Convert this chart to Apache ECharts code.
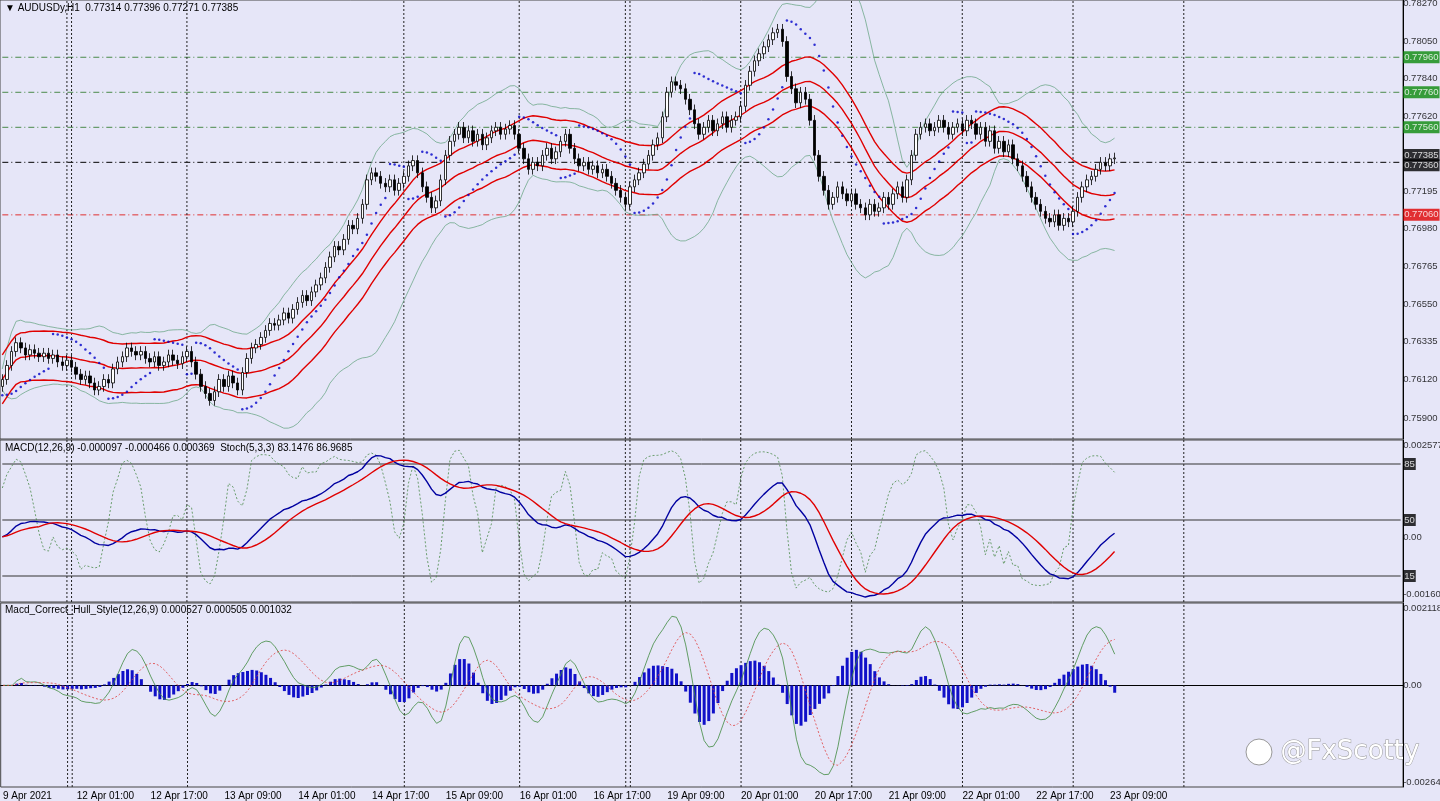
<!DOCTYPE html>
<html><head><meta charset="utf-8">
<script src="https://cdn.jsdelivr.net/npm/echarts@6/dist/echarts.min.js"></script>
<style>html,body{margin:0;padding:0;background:#e6e6f8}#c{width:1440px;height:801px}</style>
</head><body><div id="c"></div>
<script>
// ---- DATA ----
const closes = [
.7612,.7620,.7628,.7633,.7630,.7626,.7629,.7627,.7625,.7627,
.7624,.7626,.7622,.7620,.7623,.7619,.7615,.7612,.7614,.7610,
.7606,.7608,.7612,.7610,.7618,.7622,.7625,.7630,.7628,.7626,
.7628,.7624,.7622,.7625,.7620,.7622,.7626,.7623,.7621,.7625,
.7628,.7622,.7615,.7608,.7604,.7600,.7605,.7612,.7608,.7614,
.7610,.7606,.7616,.7624,.7630,.7632,.7636,.7640,.7644,.7643,
.7646,.7650,.7647,.7652,.7656,.7660,.7657,.7662,.7666,.7670,
.7676,.7682,.7688,.7686,.7692,.7700,.7698,.7704,.7712,.7726,
.7730,.7728,.7724,.7722,.7726,.7720,.7724,.7728,.7734,.7737,
.7730,.7722,.7716,.7710,.7714,.7726,.7740,.7748,.7752,.7756,
.7750,.7754,.7748,.7752,.7746,.7750,.7754,.7756,.7752,.7755,
.7757,.7752,.7744,.7738,.7732,.7736,.7734,.7740,.7744,.7738,
.7742,.7748,.7752,.7744,.7738,.7734,.7736,.7732,.7734,.7730,
.7732,.7728,.7724,.7720,.7716,.7712,.7722,.7726,.7730,.7735,
.7740,.7746,.7750,.7762,.7776,.7782,.7780,.7778,.7772,.7766,
.7758,.7752,.7756,.7760,.7754,.7758,.7762,.7756,.7760,.7762,
.7768,.7780,.7788,.7794,.7798,.7802,.7806,.7810,.7812,.7805,
.7785,.7778,.7770,.7776,.7772,.7760,.7740,.7728,.7720,.7712,
.7716,.7722,.7718,.7714,.7718,.7712,.7710,.7706,.7712,.7708,
.7710,.7716,.7712,.7718,.7722,.7716,.7726,.7740,.7752,.7756,
.7758,.7754,.7756,.7760,.7756,.7752,.7756,.7758,.7754,.7760,
.7758,.7752,.7756,.7748,.7754,.7744,.7748,.7742,.7746,.7738,
.7734,.7728,.7722,.7716,.7712,.7708,.7704,.7702,.7706,.7700,
.7704,.7702,.7708,.7716,.7722,.7726,.7728,.7732,.7736,.7734,
.7738,.77385];
const firstOpen = .7608;
const wick = 0.0003;
const timeLabels = ["9 Apr 2021","12 Apr 01:00","12 Apr 17:00","13 Apr 09:00","14 Apr 01:00","14 Apr 17:00","15 Apr 09:00","16 Apr 01:00","16 Apr 17:00","19 Apr 09:00","20 Apr 01:00","20 Apr 17:00","21 Apr 09:00","22 Apr 01:00","22 Apr 17:00","23 Apr 09:00"];
const priceTicks = ["0.78270","0.78050","0.77840","0.77620","0.77195","0.76980","0.76765","0.76550","0.76335","0.76120","0.75900"];
const greenTags = ["0.77960","0.77760","0.77560"];
const lastPrice = "0.77385", blackTag = "0.77360", redTag = "0.77060";
const daySeps = [14,15,40,87,112,135,136,160,184,208,232,256];
const macdTicks = ["0.002577","0.00","-0.00160"];
const stochLevels = [85,50,15];
const hullTicks = ["0.002118","0.00","-0.002645"];
const NCAT = 304;

// ---- derived ----
const n = closes.length;
const opens = closes.map((c,i)=> i===0?firstOpen:closes[i-1]);
const highs = closes.map((c,i)=>Math.max(c,opens[i])+wick);
const lows = closes.map((c,i)=>Math.min(c,opens[i])-wick);
const cats = Array.from({length:NCAT},(_,i)=> (i%16===0 && i/16<timeLabels.length)? timeLabels[i/16] : '');
const candles = closes.map((c,i)=>[opens[i],c,lows[i],highs[i]]);
function smaFill(a,p){return a.map((v,i)=>{const st=Math.max(0,i-p+1);let s=0;for(let k=st;k<=i;k++)s+=a[k];return s/(i-st+1);});}
function ema(a,p){const k=2/(p+1);let e=a[0];return a.map((v,i)=>{if(i>0)e=v*k+e*(1-k);return e;});}
function wma(a,p){return a.map((v,i)=>{const st=Math.max(0,i-p+1);let s=0,w=0;for(let k=st;k<=i;k++){const ww=k-st+1;s+=a[k]*ww;w+=ww;}return s/w;});}
function hma(a,p){const h=wma(a,Math.floor(p/2)),f=wma(a,p);const d=h.map((v,i)=>2*v-f[i]);return wma(d,Math.round(Math.sqrt(p)));}
const ma20 = smaFill(closes,20);
const env = 0.0014;
const up = ma20.map(v=>v+env), dn = ma20.map(v=>v-env);
const bbU=[],bbL=[];
ma20.forEach((m,i)=>{const st=Math.max(0,i-19);let s=0;for(let k=st;k<=i;k++)s+=(closes[k]-m)**2;const sd=Math.sqrt(s/(i-st+1));bbU.push(m+2*sd+0.0006);bbL.push(m-2*sd-0.0006);});
const sar=[];{let bull=true,af=0.02,ep=highs[0],s=lows[0];for(let i=0;i<n;i++){if(i>0){s=s+af*(ep-s);if(bull){if(lows[i]<s){bull=false;s=ep;ep=lows[i];af=0.02;}else if(highs[i]>ep){ep=highs[i];af=Math.min(0.2,af+0.02);}}else{if(highs[i]>s){bull=true;s=ep;ep=highs[i];af=0.02;}else if(lows[i]<ep){ep=lows[i];af=Math.min(0.2,af+0.02);}}}sar.push(bull?s-0.0002:s+0.0002);}}
const e12=ema(closes,12),e26=ema(closes,26);
const macd = e12.map((v,i)=>v-e26[i]);
const signal = smaFill(macd,9);
const rawN=[],rawD=[];closes.forEach((c,i)=>{const st=Math.max(0,i-4);let hh=-1,ll=9;for(let k=st;k<=i;k++){hh=Math.max(hh,highs[k]);ll=Math.min(ll,lows[k]);}rawN.push(c-ll);rawD.push(hh-ll);});
const stoch = rawN.map((v,i)=>{const st=Math.max(0,i-2);let a=0,b=0;for(let k=st;k<=i;k++){a+=rawN[k];b+=rawD[k];}return b?100*a/b:50;});
const h12=hma(closes,12),h26=hma(closes,26);
const hullM = h12.map((v,i)=>(v-h26[i])*0.75);
const hullS = smaFill(hullM,9);
const hullH = hullM.map((v,i)=>(v-hullS[i])*0.5);

const font='Liberation Sans';
const chart = echarts.init(document.getElementById('c'));
const R=37;
const grids=[{left:0,right:R,top:0,height:439},{left:0,right:R,top:440,height:162},{left:0,right:R,top:603,height:185}];
const xa = grids.map((g,gi)=>({type:'category',gridIndex:gi,data:cats,boundaryGap:true,
  axisLine:{show:gi===2,lineStyle:{color:'#000'}},axisTick:{show:false},
  axisLabel:{show:gi===2,interval:0,align:'left',color:'#000',fontFamily:font,fontSize:10,margin:4},
  splitLine:{show:false}}));
const yr=[[0.7578,0.78287],[-0.001824,0.002717],[-1.25,100],[-0.00278,0.002253]];
const ya=[
 {type:'value',gridIndex:0,min:yr[0][0],max:yr[0][1],position:'right',axisLabel:{show:false},axisLine:{show:true,lineStyle:{color:'#000'}},splitLine:{show:false},axisTick:{show:false}},
 {type:'value',gridIndex:1,min:yr[1][0],max:yr[1][1],position:'right',axisLabel:{show:false},axisLine:{show:true,lineStyle:{color:'#000'}},splitLine:{show:false},axisTick:{show:false}},
 {type:'value',gridIndex:1,min:yr[2][0],max:yr[2][1],position:'right',show:false},
 {type:'value',gridIndex:2,min:yr[3][0],max:yr[3][1],position:'right',axisLabel:{show:false},axisLine:{show:true,lineStyle:{color:'#000'}},splitLine:{show:false},axisTick:{show:false}}
];
const series=[];
const dd=[6,3,1,3];
function hline(xi,yi,v,color,type){series.push({type:'line',xAxisIndex:xi,yAxisIndex:yi,data:[[0,v],[NCAT-1,v]],symbol:'none',silent:true,lineStyle:{color,width:1,type},z:1});}
function vline(x,xi,yi){series.push({type:'line',xAxisIndex:xi,yAxisIndex:yi,data:[[x,yr[yi][0]],[x,yr[yi][1]]],symbol:'none',silent:true,lineStyle:{color:'#222',width:1,type:[2,2]},z:1});}
function rlabel(xi,yi,v,text,bg,dy){series.push({type:'scatter',xAxisIndex:xi,yAxisIndex:yi,data:[[NCAT-1,v]],symbolSize:1,itemStyle:{color:'rgba(0,0,0,0)'},clip:false,silent:true,z:10,
  label:{show:true,position:'right',distance:2,offset:[0,dy||0],formatter:text,fontFamily:font,fontSize:9.5,color:bg?'#fff':'#000',backgroundColor:bg||'transparent',padding:bg?[1,1]:0}});}
priceTicks.forEach(t=>rlabel(0,0,parseFloat(t),t));
greenTags.forEach(t=>{hline(0,0,parseFloat(t),'#4a8a4a',dd);rlabel(0,0,parseFloat(t),t,'#0a8a0a');});
hline(0,0,parseFloat(blackTag),'#000',dd);hline(0,0,parseFloat(redTag),'#e03030',dd);
rlabel(0,0,parseFloat(lastPrice),lastPrice,'#000',-3);
rlabel(0,0,parseFloat(blackTag),blackTag,'#000',3);
rlabel(0,0,parseFloat(redTag),redTag,'#e00000');
daySeps.forEach(x=>{vline(x,0,0);vline(x,1,2);vline(x,2,3);});
stochLevels.forEach(v=>{hline(1,2,v,'#333','solid');rlabel(1,2,v,String(v),'#000');});
macdTicks.forEach(t=>rlabel(1,1,parseFloat(t),t));
hullTicks.forEach(t=>rlabel(2,3,parseFloat(t),t));
series.push(
 {type:'candlestick',xAxisIndex:0,yAxisIndex:0,data:candles,barWidth:3,z:5,
  itemStyle:{color:'#ffffff',color0:'#000000',borderColor:'#000',borderColor0:'#000',borderWidth:0.8}},
 {type:'line',xAxisIndex:0,yAxisIndex:0,data:ma20,symbol:'none',lineStyle:{color:'#e00000',width:1.4},z:3},
 {type:'line',xAxisIndex:0,yAxisIndex:0,data:up,symbol:'none',lineStyle:{color:'#e00000',width:1.4},z:3},
 {type:'line',xAxisIndex:0,yAxisIndex:0,data:dn,symbol:'none',lineStyle:{color:'#e00000',width:1.4},z:3},
 {type:'line',xAxisIndex:0,yAxisIndex:0,data:bbU,symbol:'none',lineStyle:{color:'#6fa88a',width:0.8},z:2},
 {type:'line',xAxisIndex:0,yAxisIndex:0,data:bbL,symbol:'none',lineStyle:{color:'#6fa88a',width:0.8},z:2},
 {type:'scatter',xAxisIndex:0,yAxisIndex:0,data:sar,symbolSize:2.5,itemStyle:{color:'#0000c8'},z:4},
 {type:'line',xAxisIndex:1,yAxisIndex:2,data:stoch,symbol:'none',lineStyle:{color:'#4a8a4a',width:0.8,type:[2,2]}},
 {type:'line',xAxisIndex:1,yAxisIndex:1,data:macd,symbol:'none',lineStyle:{color:'#0000a0',width:1.4}},
 {type:'line',xAxisIndex:1,yAxisIndex:1,data:signal,symbol:'none',lineStyle:{color:'#e00000',width:1.4}},
 {type:'bar',xAxisIndex:2,yAxisIndex:3,data:hullH,barWidth:3,itemStyle:{color:'#1010c8'}},
 {type:'line',xAxisIndex:2,yAxisIndex:3,data:hullM,symbol:'none',lineStyle:{color:'#3f8a3f',width:0.8}},
 {type:'line',xAxisIndex:2,yAxisIndex:3,data:hullS,symbol:'none',lineStyle:{color:'#e04040',width:0.8,type:[2,2]}}
);
chart.setOption({animation:false,backgroundColor:'#e6e6f8',grid:grids.map(g=>({...g,show:true,borderColor:'#444',borderWidth:1,backgroundColor:'transparent'})),
 xAxis:xa,yAxis:ya,series,
 graphic:[
  {type:'text',left:5,top:3,style:{text:'▼ AUDUSDy,H1  0.77314 0.77396 0.77271 0.77385',font:'10px Liberation Sans',fill:'#000'}},
  {type:'text',left:5,top:443,style:{text:'MACD(12,26,9) -0.000097 -0.000466 0.000369  Stoch(5,3,3) 83.1476 86.9685',font:'10px Liberation Sans',fill:'#000'}},
  {type:'text',left:5,top:605,style:{text:'Macd_Correct_Hull_Style(12,26,9) 0.000527 0.000505 0.001032',font:'10px Liberation Sans',fill:'#000'}},
  {type:'text',left:1280,top:739,style:{text:'@FxScotty',font:'26px DejaVu Sans',fill:'#ffffff',stroke:'#999',lineWidth:1}},
  {type:'circle',shape:{cx:1259,cy:752,r:13},style:{fill:'#ffffff',stroke:'#999',lineWidth:1}}
 ]});
</script></body></html>
